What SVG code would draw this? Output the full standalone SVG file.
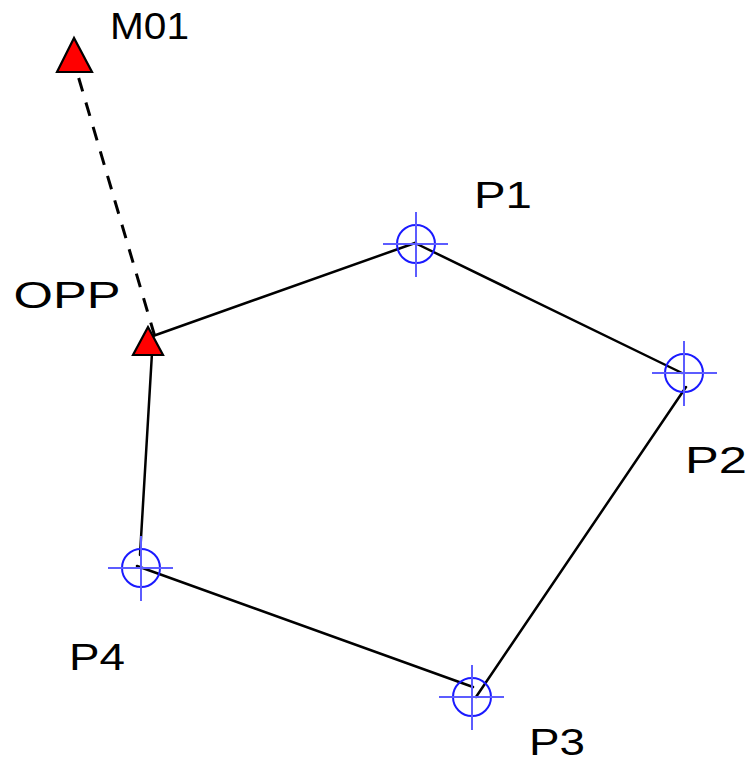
<svg xmlns="http://www.w3.org/2000/svg" width="746" height="767" viewBox="0 0 746 767">
<style>
.bg{fill:#ffffff}
.edge{stroke:#000000;stroke-width:2.5;fill:none;stroke-linecap:round}
.dash{stroke:#000000;stroke-width:3;fill:none;stroke-dasharray:14 11.5}
.tri{fill:#ff0000;stroke:#000000;stroke-width:2.2;stroke-linejoin:miter}
.ring{fill:none;stroke:#1a1aff;stroke-width:2}
.cross{stroke:#5c5cff;stroke-width:2}
.lbl{font-family:"Liberation Sans",Arial,sans-serif;font-size:36px;fill:#000000}
</style>
<rect class="bg" x="0" y="0" width="746" height="767"/>
<g id="connectors">
  <line class="dash" x1="78.7" y1="78" x2="155" y2="337"/>
  <line class="edge" x1="153" y1="336" x2="415" y2="243"/>
  <line class="edge" x1="415" y1="243" x2="682" y2="373"/>
  <line class="edge" x1="686" y1="387" x2="476" y2="697"/>
  <line class="edge" x1="473" y1="687" x2="137" y2="566"/>
  <line class="edge" x1="140" y1="555" x2="153" y2="336"/>
</g>
<g id="M01">
  <polygon class="tri" points="74,38 57,72 92,72"/>
  <text class="lbl" x="110" y="39" textLength="79" lengthAdjust="spacingAndGlyphs">M01</text>
</g>
<g id="OPP">
  <polygon class="tri" points="148,327 133,355 163,355"/>
  <text class="lbl" x="13.5" y="308" textLength="107" lengthAdjust="spacingAndGlyphs">OPP</text>
</g>
<g id="P1">
  <circle class="ring" cx="416" cy="244" r="19"/>
  <line class="cross" x1="383" y1="244" x2="448" y2="244"/>
  <line class="cross" x1="416" y1="212" x2="416" y2="277"/>
  <text class="lbl" x="474" y="208" textLength="58" lengthAdjust="spacingAndGlyphs">P1</text>
</g>
<g id="P2">
  <circle class="ring" cx="684" cy="373" r="19"/>
  <line class="cross" x1="652" y1="373" x2="717" y2="373"/>
  <line class="cross" x1="684" y1="341" x2="684" y2="406"/>
  <text class="lbl" x="685" y="473" textLength="62" lengthAdjust="spacingAndGlyphs">P2</text>
</g>
<g id="P3">
  <circle class="ring" cx="472" cy="697" r="19"/>
  <line class="cross" x1="439" y1="697" x2="504" y2="697"/>
  <line class="cross" x1="472" y1="665" x2="472" y2="730"/>
  <text class="lbl" x="529" y="755" textLength="56" lengthAdjust="spacingAndGlyphs">P3</text>
</g>
<g id="P4">
  <circle class="ring" cx="141" cy="568" r="19"/>
  <line class="cross" x1="108" y1="568" x2="173" y2="568"/>
  <line class="cross" x1="141" y1="536" x2="141" y2="601"/>
  <text class="lbl" x="69" y="670" textLength="56" lengthAdjust="spacingAndGlyphs">P4</text>
</g>
</svg>
